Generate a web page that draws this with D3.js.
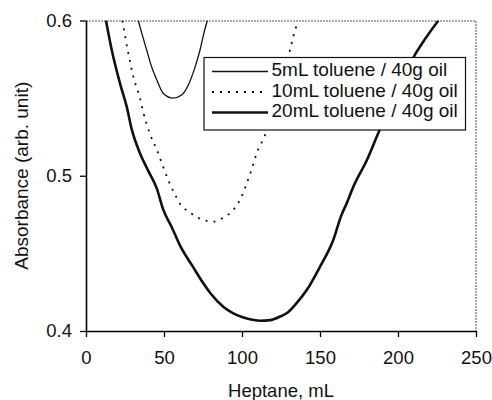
<!DOCTYPE html>
<html>
<head>
<meta charset="utf-8">
<script src="https://cdn.jsdelivr.net/npm/d3@7"></script>
<style>
  html, body { margin: 0; padding: 0; background: #fff; }
  svg { display: block; font-family: "Liberation Sans", Arial, sans-serif; }
</style>
</head>
<body>
<svg id="chart"></svg>
<script>
// Series: [heptane mL, absorbance]
const toluene5 = [
  [33.5, 0.600], [35.7, 0.592], [38.9, 0.581], [42.1, 0.570], [45.3, 0.562],
  [49.6, 0.553], [55.8, 0.550], [61.3, 0.552], [65.6, 0.5585], [69.9, 0.570],
  [73.1, 0.581], [75.6, 0.592], [77.8, 0.600]
];
const toluene10 = [
  [23.3, 0.600], [27.1, 0.579], [30.3, 0.564], [34.6, 0.550], [36.7, 0.541],
  [41.0, 0.527], [45.3, 0.517], [49.0, 0.507], [52.8, 0.497], [56.5, 0.489],
  [60.3, 0.482], [67.0, 0.476], [75.2, 0.4715], [81.6, 0.4705], [88.0, 0.473],
  [94.4, 0.478], [99.0, 0.485], [103.0, 0.495], [106.5, 0.505], [109.4, 0.5145],
  [114.7, 0.526], [122.0, 0.553], [128.0, 0.572], [130.8, 0.581], [133.0, 0.590],
  [136.0, 0.600]
];
const toluene20 = [
  [12.8, 0.600], [16.5, 0.581], [21.8, 0.5595], [26.1, 0.5445], [29.3, 0.530],
  [34.6, 0.5145], [40.0, 0.503], [45.3, 0.492], [49.6, 0.478], [54.9, 0.467],
  [60.3, 0.455], [68.8, 0.441], [75.2, 0.4307], [80.0, 0.424], [88.0, 0.4157],
  [94.4, 0.4114], [100.0, 0.409], [105.0, 0.4075], [111.5, 0.4066], [118.0, 0.407],
  [124.4, 0.4093], [128.6, 0.4114], [135.0, 0.418], [141.5, 0.4264], [150.0, 0.4414],
  [158.5, 0.4586], [163.5, 0.474], [167.0, 0.482], [171.4, 0.493], [180.0, 0.510],
  [188.0, 0.529], [200.0, 0.555], [210.9, 0.578], [218.0, 0.589], [225.9, 0.600]
];

const seriesNames = ["5mL toluene / 40g oil", "10mL toluene / 40g oil", "20mL toluene / 40g oil"];
const xTicks = [0, 50, 100, 150, 200, 250];
const yTicks = [0.4, 0.5, 0.6];

const svg = d3.select("#chart"),
    margin = {top: 20.5, right: 16, bottom: 69, left: 86},
    width = 492 - margin.left - margin.right,
    height = 400 - margin.top - margin.bottom;

svg.attr("width", 492).attr("height", 400);

const g = svg.append("g").attr("transform", `translate(${margin.left},${margin.top})`);

const x = d3.scaleLinear().domain([0, 250]).range([0, width]);
const y = d3.scaleLinear().domain([0.4, 0.6]).range([height, 0]);

// Clip for curves
svg.append("defs").append("clipPath").attr("id", "plotClip")
  .append("rect").attr("width", width).attr("height", height);

// Top and right frame (light dotted)
g.append("path")
  .attr("d", `M0,0.5H${width}V${height}`)
  .attr("fill", "none")
  .attr("stroke", "#555")
  .attr("stroke-width", 1)
  .attr("stroke-dasharray", "2,1");

// X axis
const xAxis = g.append("g")
  .attr("transform", `translate(0,${height})`)
  .call(d3.axisBottom(x).tickValues(xTicks).tickSize(6).tickPadding(14).tickSizeOuter(0));
xAxis.select(".domain").attr("stroke-width", 1.6);
xAxis.selectAll(".tick line").attr("stroke-width", 1.3);
xAxis.selectAll("text").style("font-size", "18.5px").attr("fill", "#111");

// Y axis
const yAxis = g.append("g")
  .call(d3.axisLeft(y).tickValues(yTicks).tickFormat(d3.format(".1f")).tickSize(6).tickPadding(8).tickSizeOuter(0));
yAxis.select(".domain").attr("stroke-width", 1.6);
yAxis.selectAll(".tick line").attr("stroke-width", 1.3);
yAxis.selectAll("text").style("font-size", "18.5px").attr("fill", "#111");

// Axis labels
svg.append("text")
  .attr("x", margin.left + width / 2)
  .attr("y", 397)
  .attr("text-anchor", "middle")
  .style("font-size", "18.5px")
  .attr("fill", "#111")
  .text("Heptane, mL");

svg.append("text")
  .attr("transform", "rotate(-90)")
  .attr("x", -(margin.top + height / 2))
  .attr("y", 28)
  .attr("text-anchor", "middle")
  .style("font-size", "19px")
  .attr("fill", "#111")
  .text("Absorbance (arb. unit)");

// Curves
const line = d3.line()
  .x(d => x(d[0]))
  .y(d => y(d[1]))
  .curve(d3.curveMonotoneX);

const styles = [
  {width: 1.3, dash: null},
  {width: 1.8, dash: "2,6"},
  {width: 2.6, dash: null}
];
const allSeries = [toluene5, toluene10, toluene20];

const curves = g.append("g").attr("clip-path", "url(#plotClip)");
allSeries.forEach((s, i) => {
  curves.append("path")
    .datum(s)
    .attr("d", line)
    .attr("fill", "none")
    .attr("stroke", "#111")
    .attr("stroke-width", styles[i].width)
    .attr("stroke-dasharray", styles[i].dash);
});

// Legend
const legend = svg.append("g").attr("transform", "translate(204,57.5)");
legend.append("rect")
  .attr("width", 261.5)
  .attr("height", 72.5)
  .attr("fill", "#fff")
  .attr("stroke", "#111")
  .attr("stroke-width", 1.2);

seriesNames.forEach((name, i) => {
  const base = 18.5 + i * 20.5;
  legend.append("line")
    .attr("x1", 8).attr("x2", 64)
    .attr("y1", base - 4.5).attr("y2", base - 4.5)
    .attr("stroke", "#111")
    .attr("stroke-width", styles[i].width)
    .attr("stroke-dasharray", styles[i].dash);
  legend.append("text")
    .attr("x", 67.5)
    .attr("y", base)
    .style("font-size", "19px")
    .attr("fill", "#111")
    .text(name);
});
</script>
</body>
</html>
